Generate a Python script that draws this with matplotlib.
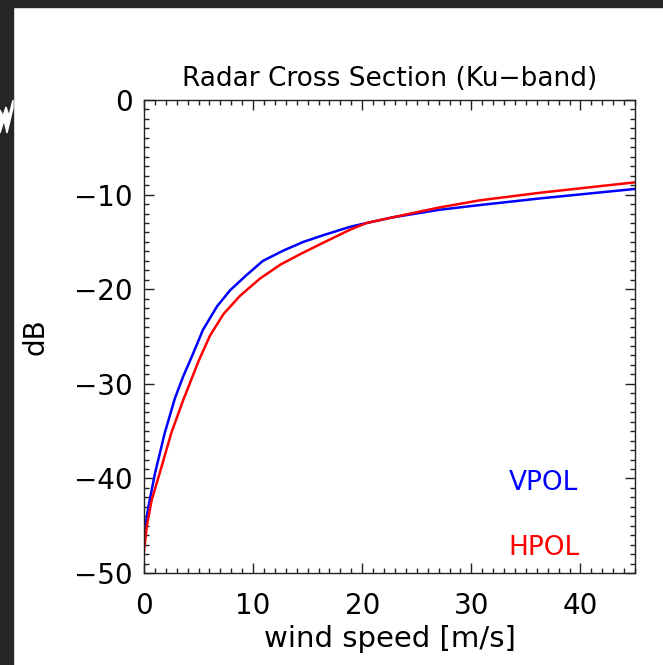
import matplotlib
matplotlib.use('Agg')
import matplotlib.pyplot as plt
from matplotlib.patches import Rectangle, Polygon
from matplotlib.ticker import MultipleLocator

# values
vpol_speed = [0, 0.4, 1.0, 1.9, 2.84, 3.6, 4.5, 5.4, 6.7, 7.9, 9.4, 10.9,
              12.8, 14.6, 16.4, 18.9, 20.4, 22.8, 27.1, 30.8, 36.3, 45.0]
vpol_db = [-46.0, -43.0, -39.5, -35.2, -31.5, -29.2, -26.8, -24.3, -21.8,
           -20.1, -18.5, -17.0, -15.9, -15.0, -14.3, -13.4, -13.0, -12.4,
           -11.6, -11.1, -10.4, -9.4]

hpol_speed = [0, 0.25, 0.7, 1.6, 2.5, 3.6, 5.0, 6.05, 7.3, 8.8, 10.6, 12.5,
              14.3, 16.4, 18.9, 20.4, 23.2, 27.1, 30.8, 36.3, 45.0]
hpol_db = [-47.7, -45.1, -42.3, -38.8, -35.2, -31.7, -27.6, -24.9, -22.6,
           -20.7, -18.9, -17.4, -16.3, -15.1, -13.7, -13.0, -12.3, -11.35,
           -10.6, -9.8, -8.7]

x_ticks = [0, 10, 20, 30, 40]
y_ticks = [0, -10, -20, -30, -40, -50]


def main():
    fig = plt.figure(figsize=(6.63, 6.65), dpi=100)
    ax = fig.add_axes([0.2172, 0.1383, 0.7406, 0.7113])

    ax.plot(vpol_speed, vpol_db, color='#0000ff', lw=1.8)
    ax.plot(hpol_speed, hpol_db, color='#ff0000', lw=1.8)

    ax.set_xlim(0, 45)
    ax.set_ylim(-50, 0)
    ax.set_xticks(x_ticks)
    ax.set_yticks(y_ticks)
    ax.set_yticklabels(['0'] + ['\u2212%d' % -v for v in y_ticks[1:]])
    ax.xaxis.set_minor_locator(MultipleLocator(1))
    ax.yaxis.set_minor_locator(MultipleLocator(1))
    ax.tick_params(which='both', direction='in', top=True, right=True,
                   width=1.0, color='#222222')
    ax.tick_params(which='major', length=7.5, labelsize=20)
    ax.tick_params(which='minor', length=3.6)
    ax.tick_params(axis='x', which='major', pad=14)
    ax.tick_params(axis='y', which='major', pad=8)
    for s in ax.spines.values():
        s.set_linewidth(1.0)
        s.set_color('#222222')

    ax.set_title('Radar Cross Section (Ku\u2212band)', fontsize=19, pad=10)
    ax.set_xlabel('wind speed [m/s]', fontsize=21, labelpad=3)
    ax.set_ylabel('dB', fontsize=20, labelpad=18)

    ax.text(33.4, -40.5, 'VPOL', color='#0000ff', fontsize=19, va='center')
    ax.text(33.4, -47.4, 'HPOL', color='#ff0000', fontsize=19, va='center')

    # dark screenshot frame on the top and left edges
    W, H = 663.0, 665.0
    fig.patches.append(Rectangle((0, 1 - 7 / H), 1, 7 / H, transform=fig.transFigure,
                                 color='#262626', zorder=10))
    fig.patches.append(Rectangle((0, 0), 13 / W, 1, transform=fig.transFigure,
                                 color='#262626', zorder=10))
    mark = [(0, 133), (4, 120), (7, 133), (13, 108), (13, 100), (9, 116),
            (6, 107), (3, 116), (0, 110)]
    fig.patches.append(Polygon([(x / W, 1 - y / H) for x, y in mark],
                               transform=fig.transFigure, color='white', zorder=11))

    fig.savefig('out.png', dpi=100)


if __name__ == '__main__':
    main()
